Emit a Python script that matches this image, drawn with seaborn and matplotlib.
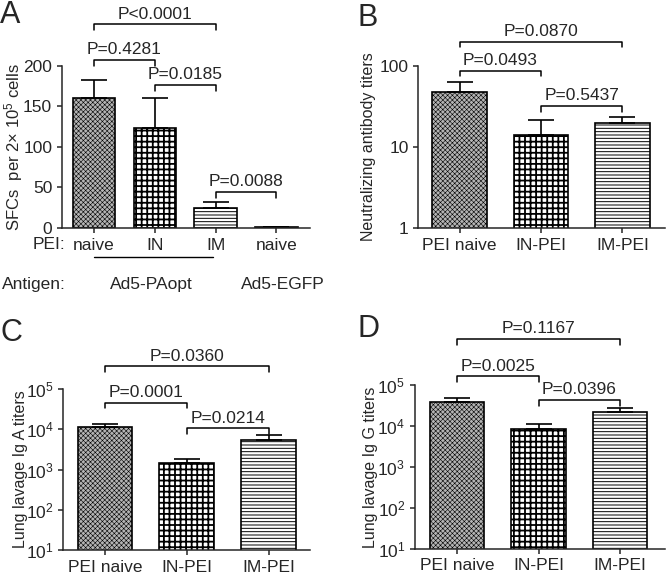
import matplotlib
matplotlib.use('Agg')
import matplotlib.pyplot as plt
import matplotlib.ticker as mticker
import seaborn as sns
import pandas as pd
import numpy as np

# -- Data ----------------------------------------------------
A_groups = ['PAopt-naive', 'PAopt-IN', 'PAopt-IM', 'EGFP-naive']
A_ticklabels = ['naive', 'IN', 'IM', 'naive']
A_mean = [160, 124, 24, 0.5]
A_top = [183, 161, 32.5, 0.5]

groups = ['PEI naive', 'IN-PEI', 'IM-PEI']
B_mean = [48, 13.9, 19.6]
B_top = [63, 21.5, 23.7]
C_mean = [11400, 1450, 5500]
C_top = [13700, 1790, 7080]
D_mean = [39800, 8300, 21900]
D_top = [48000, 11000, 27500]

# bracket: (group i, group j, label)
A_pvals = [(0, 2, 'P<0.0001'), (0, 1, 'P=0.4281'), (1, 2, 'P=0.0185'), (2, 3, 'P=0.0088')]
B_pvals = [(0, 2, 'P=0.0870'), (0, 1, 'P=0.0493'), (1, 2, 'P=0.5437')]
C_pvals = [(0, 2, 'P=0.0360'), (0, 1, 'P=0.0001'), (1, 2, 'P=0.0214')]
D_pvals = [(0, 2, 'P=0.1167'), (0, 1, 'P=0.0025'), (1, 2, 'P=0.0396')]

# -- Style ---------------------------------------------------
sns.set_style('ticks')
plt.rcParams['font.family'] = ['Liberation Sans', 'DejaVu Sans']
plt.rcParams['mathtext.fontset'] = 'custom'
plt.rcParams['mathtext.rm'] = 'Liberation Sans'
plt.rcParams['mathtext.it'] = 'Liberation Sans:italic'
plt.rcParams['axes.linewidth'] = 1.1
plt.rcParams['xtick.major.width'] = 1.1
plt.rcParams['ytick.major.width'] = 1.1
plt.rcParams['xtick.major.size'] = 3.5
plt.rcParams['ytick.major.size'] = 3.5
plt.rcParams['xtick.direction'] = 'out'
plt.rcParams['ytick.direction'] = 'out'

FS = 12.5
LFS = 11.5
HATCHES = [('xxxxxxx', '#b4b4b4', 0.4), ('+++', 'white', 1.3), ('-----', 'white', 0.7)]

fig = plt.figure(figsize=(6.66, 5.74), dpi=100)
axA = fig.add_axes([0.093, 0.603, 0.372, 0.282])
axB = fig.add_axes([0.628, 0.603, 0.370, 0.282])
axC = fig.add_axes([0.095, 0.042, 0.370, 0.280])
axD = fig.add_axes([0.623, 0.044, 0.375, 0.285])


def draw_bars(ax, names, means, tops, hatch_idx, width):
    df = pd.DataFrame({'group': names, 'value': means})
    sns.barplot(data=df, x='group', y='value', order=names, errorbar=None,
                width=width, color='white', edgecolor='black', linewidth=1.2, ax=ax)
    for p, h in zip(ax.patches, hatch_idx):
        hatch, face, hlw = HATCHES[h]
        p.set_facecolor(face)
        p.set_hatch(hatch)
        if hasattr(p, 'set_hatch_linewidth'):
            p.set_hatch_linewidth(hlw)
    err = np.array(tops) - np.array(means)
    ax.errorbar(np.arange(len(names)), means, yerr=[np.zeros(len(names)), err],
                fmt='none', ecolor='black', elinewidth=1.2, capsize=9.5, capthick=1.2)
    ax.set_xlabel('')
    sns.despine(ax=ax)


def bracket(ax, i, j, y, label, drop=0.035):
    trans = ax.get_xaxis_transform()
    ax.plot([i, i, j, j], [y - drop, y, y, y - drop], transform=trans,
            color='black', lw=1.1, clip_on=False)
    ax.annotate(label, xy=((i + j) / 2, y), xycoords=trans, xytext=(0, 4),
                textcoords='offset points', ha='center', va='baseline', fontsize=FS)


def log_labels(ax, lo, hi):
    ax.set_yscale('log')
    ax.set_ylim(lo, hi)
    ax.yaxis.set_major_locator(mticker.LogLocator(base=10, numticks=10))
    ax.yaxis.set_minor_locator(mticker.NullLocator())


# -- Panel A -------------------------------------------------
draw_bars(axA, A_groups, A_mean, A_top, [0, 1, 2, 2], 0.7)
axA.set_ylim(0, 200)
axA.set_yticks([0, 50, 100, 150, 200])
axA.set_xlim(-0.53, 3.55)
axA.set_xticks(range(4))
axA.set_xticklabels(A_ticklabels, fontsize=FS)
axA.tick_params(axis='y', labelsize=FS)
axA.set_ylabel(r'SFCs  per 2× 10$^5$ cells', fontsize=12)
axA.yaxis.set_label_coords(-0.149, 0.5)
for (i, j, lab), y in zip(A_pvals, [1.259, 1.037, 0.883, 0.222]):
    bracket(axA, i, j, y, lab)
trA = axA.get_xaxis_transform()
axA.plot([0, 1.95], [-0.179, -0.179], transform=trA, color='black', lw=1.0, clip_on=False)
fig.text(33 / 666, 1 - 245 / 574, 'PEI:', fontsize=FS, va='center')
fig.text(2 / 666, 1 - 285 / 574, 'Antigen:', fontsize=FS, va='center')
axA.text(0.94, -0.35, 'Ad5-PAopt', transform=trA, fontsize=FS, ha='center', va='center')
axA.text(3.1, -0.35, 'Ad5-EGFP', transform=trA, fontsize=FS, ha='center', va='center')

# -- Panel B -------------------------------------------------
draw_bars(axB, groups, B_mean, B_top, [0, 1, 2], 0.67)
log_labels(axB, 1, 100)
axB.yaxis.set_major_formatter(mticker.FuncFormatter(lambda v, _: f'{v:g}'))
axB.set_xlim(-0.51, 2.52)
axB.tick_params(labelsize=FS)
axB.set_ylabel('Neutralizing antibody titers', fontsize=LFS)
axB.yaxis.set_label_coords(-0.17, 0.5)
for (i, j, lab), y in zip(B_pvals, [1.150, 0.971, 0.753]):
    bracket(axB, i, j, y, lab)

# -- Panel C -------------------------------------------------
draw_bars(axC, groups, C_mean, C_top, [0, 1, 2], 0.67)
log_labels(axC, 10, 1e5)
axC.set_xlim(-0.51, 2.5)
axC.tick_params(labelsize=FS)
axC.set_ylabel('Lung lavage Ig A titers', fontsize=LFS)
axC.yaxis.set_label_coords(-0.142, 0.5)
for (i, j, lab), y in zip(C_pvals, [1.143, 0.915, 0.758]):
    bracket(axC, i, j, y, lab)

# -- Panel D -------------------------------------------------
draw_bars(axD, groups, D_mean, D_top, [0, 1, 2], 0.67)
log_labels(axD, 10, 1e5)
axD.set_xlim(-0.52, 2.55)
axD.tick_params(labelsize=FS)
axD.set_ylabel('Lung lavage Ig G titers', fontsize=LFS)
axD.yaxis.set_label_coords(-0.148, 0.5)
for (i, j, lab), y in zip(D_pvals, [1.282, 1.053, 0.910]):
    bracket(axD, i, j, y, lab)

# -- Panel letters -------------------------------------------
for lab, x, y in [('A', 0 / 666, 1.0), ('B', 358 / 666, 1 - 3 / 574),
                  ('C', 0 / 666, 1 - 318 / 574), ('D', 358 / 666, 1 - 314 / 574)]:
    fig.text(x, y, lab, fontsize=22, va='top', ha='left')

fig.savefig('out.png', dpi=100)
